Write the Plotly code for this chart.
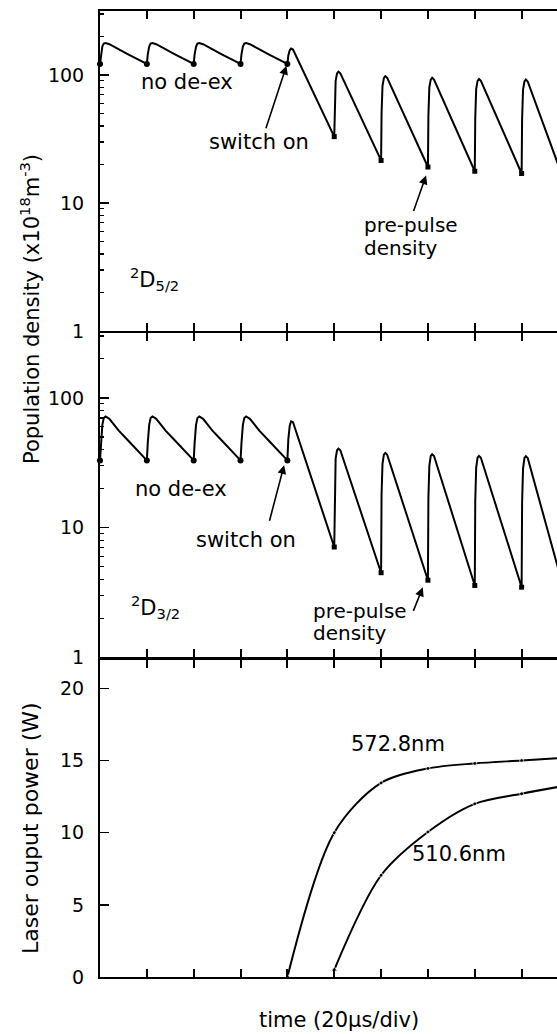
import math
import plotly.graph_objects as go

# ---------------- data (time in divisions of 20 us) ----------------
# 2D5/2 population density (x10^18 m^-3)
d52_t = [0, 0.02, 0.05, 0.08, 0.12, 0.2, 0.4, 0.6, 0.8,
         1, 1.02, 1.05, 1.08, 1.12, 1.2, 1.4, 1.6, 1.8,
         2, 2.02, 2.05, 2.08, 2.12, 2.2, 2.4, 2.6, 2.8,
         3, 3.02, 3.05, 3.08, 3.12, 3.2, 3.4, 3.6, 3.8,
         4, 4.02, 4.05, 4.08, 4.12,
         5, 5.01, 5.03, 5.06, 5.09, 5.13,
         6, 6.01, 6.03, 6.06, 6.09, 6.13,
         7, 7.01, 7.03, 7.06, 7.09, 7.13,
         8, 8.01, 8.03, 8.06, 8.09, 8.13,
         9, 9.01, 9.03, 9.06, 9.09, 9.13,
         10]
d52_n = [122, 145, 167, 176, 178, 174, 158, 145, 133,
         122, 145, 167, 176, 178, 174, 158, 145, 133,
         122, 145, 167, 176, 178, 174, 158, 145, 133,
         122, 145, 167, 176, 178, 174, 158, 145, 133,
         122, 142, 156, 161, 158,
         33, 62, 90, 103, 106, 103,
         21.5, 50, 82, 95, 98, 95,
         19.1, 48, 80, 92, 95, 92,
         17.7, 46, 78, 90, 93, 90,
         17.0, 45, 77, 89, 92, 89,
         12]
d52_mark_t = [0, 1, 2, 3, 4, 5, 6, 7, 8, 9]
d52_mark_n = [122, 122, 122, 122, 122, 33, 21.5, 19.1, 17.7, 17.0]

# 2D3/2 population density (x10^18 m^-3)
d32_t = [0, 0.02, 0.05, 0.08, 0.12, 0.2, 0.4, 0.6, 0.8,
         1, 1.02, 1.05, 1.08, 1.12, 1.2, 1.4, 1.6, 1.8,
         2, 2.02, 2.05, 2.08, 2.12, 2.2, 2.4, 2.6, 2.8,
         3, 3.02, 3.05, 3.08, 3.12, 3.2, 3.4, 3.6, 3.8,
         4, 4.02, 4.05, 4.08, 4.12,
         5, 5.01, 5.03, 5.06, 5.09, 5.13,
         6, 6.01, 6.03, 6.06, 6.09, 6.13,
         7, 7.01, 7.03, 7.06, 7.09, 7.13,
         8, 8.01, 8.03, 8.06, 8.09, 8.13,
         9, 9.01, 9.03, 9.06, 9.09, 9.13,
         10]
d32_n = [33, 45, 62, 70, 72, 69, 56, 47, 39.4,
         33, 45, 62, 70, 72, 69, 56, 47, 39.4,
         33, 45, 62, 70, 72, 69, 56, 47, 39.4,
         33, 45, 62, 70, 72, 69, 56, 47, 39.4,
         33, 48, 61, 66, 65,
         7.1, 22, 34, 39.5, 40.7, 39.5,
         4.5, 18, 31, 36.5, 37.7, 36.5,
         3.94, 17, 30, 35.7, 36.8, 35.7,
         3.59, 16, 29, 34.7, 35.7, 34.6,
         3.48, 15.5, 28.5, 34.5, 35.5, 34.4,
         2.5]
d32_mark_t = [0, 1, 2, 3, 4, 5, 6, 7, 8, 9]
d32_mark_n = [33, 33, 33, 33, 33, 7.1, 4.5, 3.94, 3.59, 3.48]

# Laser output power (W)
p572_t = [4, 5, 6, 7, 8, 9, 10]
p572_w = [0, 10.0, 13.45, 14.45, 14.8, 15.0, 15.2]
p510_t = [5, 6, 7, 8, 9, 10]
p510_w = [0.5, 7.05, 10.05, 12.0, 12.7, 13.3]

x_ticks = [0, 1, 2, 3, 4, 5, 6, 7, 8, 9, 10]
log_major = [1, 10, 100]
log_minor = [2, 3, 4, 5, 6, 7, 8, 9, 20, 30, 40, 50, 60, 70, 80, 90, 200, 300]
power_ticks = [0, 5, 10, 15, 20]

# ---------------- figure ----------------
FONT = "DejaVu Sans"
BLACK = "#000000"
fig = go.Figure()

def markers_split(ts, ns, n_circle):
    return (ts[:n_circle], ns[:n_circle], ts[n_circle:], ns[n_circle:])

# panel 1
fig.add_trace(go.Scatter(x=d52_t, y=d52_n, mode="lines", line=dict(color=BLACK, width=2),
                         xaxis="x3", yaxis="y3", showlegend=False))
c_t, c_n, s_t, s_n = markers_split(d52_mark_t, d52_mark_n, 5)
fig.add_trace(go.Scatter(x=c_t, y=c_n, mode="markers", marker=dict(symbol="circle", size=6, color=BLACK),
                         xaxis="x3", yaxis="y3", showlegend=False, cliponaxis=False))
fig.add_trace(go.Scatter(x=s_t, y=s_n, mode="markers", marker=dict(symbol="square", size=5, color=BLACK),
                         xaxis="x3", yaxis="y3", showlegend=False, cliponaxis=False))
# panel 2
fig.add_trace(go.Scatter(x=d32_t, y=d32_n, mode="lines", line=dict(color=BLACK, width=2),
                         xaxis="x2", yaxis="y2", showlegend=False))
c_t, c_n, s_t, s_n = markers_split(d32_mark_t, d32_mark_n, 5)
fig.add_trace(go.Scatter(x=c_t, y=c_n, mode="markers", marker=dict(symbol="circle", size=6, color=BLACK),
                         xaxis="x2", yaxis="y2", showlegend=False, cliponaxis=False))
fig.add_trace(go.Scatter(x=s_t, y=s_n, mode="markers", marker=dict(symbol="square", size=5, color=BLACK),
                         xaxis="x2", yaxis="y2", showlegend=False, cliponaxis=False))
# panel 3
for ts, ws in ((p572_t, p572_w), (p510_t, p510_w)):
    fig.add_trace(go.Scatter(x=ts, y=ws, mode="lines+markers",
                             line=dict(color=BLACK, width=2, shape="spline", smoothing=0.9),
                             marker=dict(size=[6] + [4] * (len(ts) - 1),
                                         symbol=["triangle-up"] + ["circle"] * (len(ts) - 1),
                                         color=BLACK),
                             xaxis="x", yaxis="y", showlegend=False, cliponaxis=False))

XR = [0, 9.755]
xcommon = dict(showline=True, linecolor=BLACK, linewidth=2, ticks="inside", tickcolor=BLACK,
               tickwidth=2, showgrid=False, zeroline=False,
               range=XR, tickmode="array", tickvals=x_ticks, ticklen=8,
               showticklabels=False, mirror="allticks")
ycommon = dict(showline=True, linecolor=BLACK, linewidth=2, ticks="inside", tickcolor=BLACK,
               tickwidth=1.5, ticklen=9, mirror=False, showgrid=False, zeroline=False,
               tickfont=dict(family=FONT, size=19, color=BLACK), ticklabelstandoff=10)
logy = dict(ycommon, type="log", range=[0, 2.5], tickmode="array", tickvals=log_major,
            ticktext=[str(v) for v in log_major],
            minor=dict(tickmode="array", tickvals=log_minor, ticks="inside", ticklen=4,
                       tickwidth=1.2, tickcolor=BLACK, showgrid=False))

d3 = [0.0, 0.32867]
d2 = [0.33075, 0.66667]
d1 = [0.66874, 1.0]

fig.update_layout(
    width=557, height=1034,
    margin=dict(l=100, r=0, t=11, b=57, pad=0),
    paper_bgcolor="white", plot_bgcolor="white",
    font=dict(family=FONT, size=20, color=BLACK),
    xaxis=dict(xcommon, domain=[0, 1], anchor="y"),
    xaxis2=dict(xcommon, domain=[0, 1], anchor="y2"),
    xaxis3=dict(xcommon, domain=[0, 1], anchor="y3"),
    yaxis=dict(ycommon, domain=d3, anchor="x", range=[0, 22], tickmode="array", tickvals=power_ticks),
    yaxis2=dict(logy, domain=d2, anchor="x2"),
    yaxis3=dict(logy, domain=d1, anchor="x3"),
)

def txt(text, x, y, xref, yref, xanchor="center", size=21, angle=0):
    fig.add_annotation(text=text, x=x, y=y, xref=xref, yref=yref, showarrow=False,
                       xanchor=xanchor, yanchor="middle", textangle=angle,
                       font=dict(family=FONT, size=size, color=BLACK))

def arrow(x, y, ax, ay, xref, yref):
    fig.add_annotation(text="", x=x, y=y, ax=ax, ay=ay, xref=xref, yref=yref,
                       showarrow=True, arrowhead=2, arrowsize=1.1, arrowwidth=1.6,
                       arrowcolor=BLACK, standoff=0, startstandoff=0)

# panel 1 labels
txt("no de-ex", 1.857, 1.946, "x3", "y3")
txt("switch on", 3.394, 1.479, "x3", "y3")
txt("pre-pulse", 5.586, 0.83, "x3", "y3", xanchor="left", size=20)
txt("density", 5.586, 0.65, "x3", "y3", xanchor="left", size=20)
txt("<sup>2</sup>D<sub>5/2</sub>", 1.153, 0.405, "x3", "y3")
arrow(3.98, math.log10(118), -21, 64, "x3", "y3")
arrow(6.96, math.log10(16.4), -13, 37, "x3", "y3")
# panel 2 labels
txt("no de-ex", 1.729, 1.298, "x2", "y2")
txt("switch on", 3.116, 0.907, "x2", "y2")
txt("pre-pulse", 4.504, 0.36, "x2", "y2", xanchor="left", size=20)
txt("density", 4.504, 0.185, "x2", "y2", xanchor="left", size=20)
txt("<sup>2</sup>D<sub>3/2</sub>", 1.195, 0.387, "x2", "y2")
arrow(3.93, math.log10(30.3), -15, 57, "x2", "y2")
arrow(6.89, math.log10(3.47), -10, 25, "x2", "y2")
# panel 3 labels
txt("572.8nm", 6.354, 16.16, "x", "y")
txt("510.6nm", 7.669, 8.49, "x", "y")
# axis titles
txt("Population density (x10<sup>18</sup>m<sup>-3</sup>)", -0.1532, 0.6915, "paper", "paper", angle=-90)
txt("Laser ouput power (W)", -0.1532, 0.1542, "paper", "paper", angle=-90, size=22)
txt("time (20µs/div)", 0.523, -0.0445, "paper", "paper")

fig.write_html("out.html",
               config={"displayModeBar": False, "staticPlot": True},
               post_script="document.body.style.margin='0';document.body.style.padding='0';"
                           "document.body.style.overflow='hidden';")
